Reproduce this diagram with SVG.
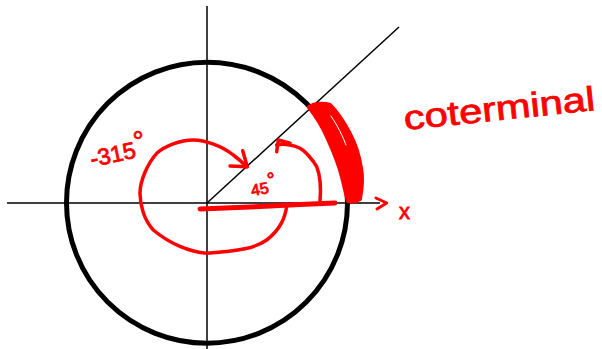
<svg xmlns="http://www.w3.org/2000/svg" width="602" height="349" viewBox="0 0 602 349">
<style>
.ax{stroke:#000;stroke-width:1.5;fill:none}
.ink{stroke:#ff0000;fill:none;stroke-linecap:round;stroke-linejoin:round}
.lbl{fill:#ff0000;stroke:#ff0000;stroke-width:0.8;font-family:"Liberation Sans",Arial,sans-serif}
</style>
<rect width="602" height="349" fill="#fff"/>
<g id="axes">
<line class="ax" x1="7" y1="203" x2="380" y2="203"/>
<line class="ax" x1="207" y1="6" x2="207" y2="349"/>
<line class="ax" x1="207" y1="203" x2="399" y2="27"/>
</g>
<circle id="unit-circle" cx="207" cy="202.7" r="140.5" fill="none" stroke="#000" stroke-width="5"/>
<g id="angles">
<path class="ink" stroke-width="5" d="M200 209 L260 206.5 L300 204.5 L335 203"/>
<path class="ink" stroke-width="3.5" d="M286.7 206.7 C285 216 282 228 266.7 240 C255 248 240 251 206.7 253.3 C190 252 170 244 153.3 230 C144 220 140 205 140 193.3 C140 180 148 163 156.7 153.3 C165 146 180 140 193.3 140 C205 140 222 146 233.3 155 C240 160 244 164 246.7 166.7"/>
<path class="ink" stroke-width="3.5" d="M242.7 150.7 L247.3 166.7 L230 166"/>
<path class="ink" stroke-width="3.5" d="M320 201.7 C321 190 320 175 316.7 166.7 C313 160 305 151 300 148.3 C294 145 283 143 276.7 145"/>
<path class="ink" stroke-width="3.5" d="M276.7 151.7 L278.3 140 L290 143.3"/>
<path class="ink" stroke-width="3" d="M376 198 L386.7 203 L377 209"/>
<path fill="#ff0000" stroke="#ff0000" stroke-width="4" stroke-linejoin="round" d="M309 107 C315 115 322 125 327 137 C333 150 339 165 342 177 C345 188 346 195 348 201 C352 202 357 201 360 199 C362 188 363 178 361 168 C359 155 355 143 349 132 C343 121 336 111 330 105 C324 103 315 103 309 107 Z"/>
<path stroke="#fff" stroke-width="1" fill="none" stroke-linecap="round" d="M331 116 C337 125 342 134 346 145"/>
</g>
<g id="labels">
<text class="lbl" font-size="23" transform="rotate(-12 92 167)" x="92" y="167">-315<tspan font-size="28" dy="-6">°</tspan></text>
<text class="lbl" font-size="16" transform="rotate(-10 252 196)" x="252" y="196">45<tspan font-size="20" dy="-6">°</tspan></text>
<text class="lbl" font-size="22" x="399" y="219">x</text>
<text class="lbl" font-size="34" stroke-width="0.6" transform="rotate(-6 405 130)" x="405" y="130" textLength="192" lengthAdjust="spacingAndGlyphs">coterminal</text>
</g>
</svg>
